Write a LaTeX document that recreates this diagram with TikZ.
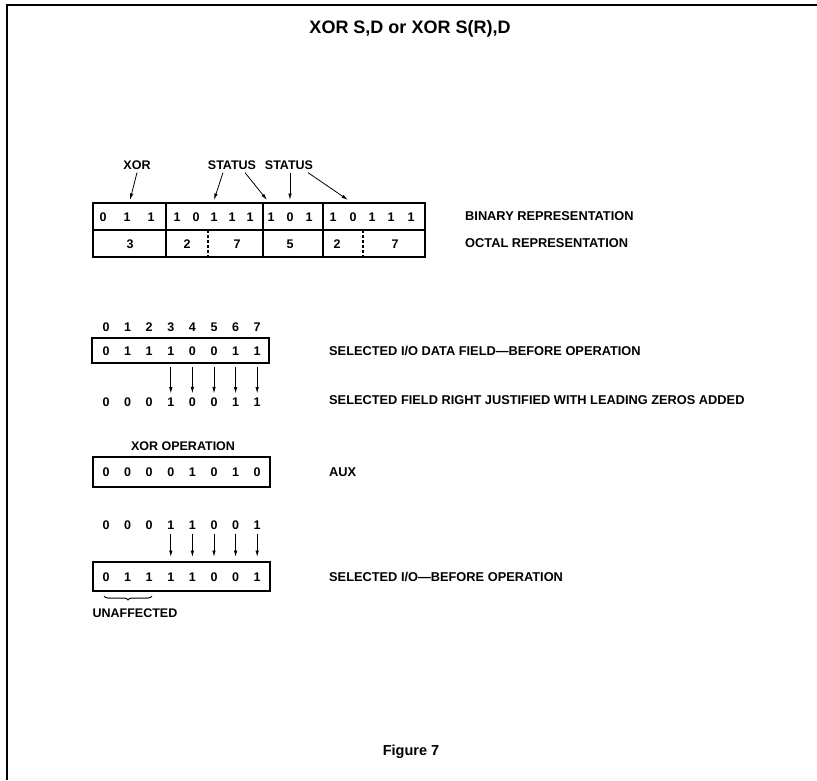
\documentclass[tikz,border=0pt]{standalone}
\usepackage{fontspec}
\setmainfont{Liberation Sans}
\usetikzlibrary{calc,positioning,arrows.meta,decorations.pathreplacing}

\begin{document}
\begin{tikzpicture}[x=1pt,y=-1pt]

\tikzset{bit/.style={font=\bfseries\fontsize{12.5}{14}\selectfont,inner sep=0pt},
sidetext/.style={font=\bfseries\fontsize{12.8}{14}\selectfont,inner sep=0pt,anchor=west},
reg/.style={draw,line width=2pt,minimum width=177pt,inner sep=0pt},
wordline/.style={line width=1.3pt},
downarrow/.style={-{Latex[length=6.5pt,width=3.5pt]},line width=0.8pt}}

% Frame
\useasboundingbox (0,0) rectangle (817,780);
\draw[line width=1.6pt] (817,5) -- (7,5) -- (7,780);

% Titles
\node[font=\bfseries\fontsize{18}{20}\selectfont] (title) at (410,29) {XOR S,D or XOR S(R),D};
\node[font=\bfseries\fontsize{14.5}{16}\selectfont] (figure) at (411,752) {Figure 7};

% Instruction word
\draw[wordline] (93,203) rectangle (425,257);
\draw[wordline] (93,230) -- (425,230);
\foreach \x in {166,263,323} \draw[wordline] (\x,203) -- (\x,257);
\foreach \x in {208,363} \draw[wordline,dash pattern=on 3pt off 2pt] (\x,230) -- (\x,257); % octal splits
\foreach \b/\x [count=\i] in {0/103,1/127,1/151,1/177,0/196,1/214,1/232,1/250,1/271,0/290,1/309,1/333,0/353,1/372,1/391,1/411}
  \node[bit] (bin\i) at (\x,217) {\b};
\foreach \d/\x [count=\i] in {3/130,2/187,7/237,5/290,2/337,7/395}
  \node[bit] (oct\i) at (\x,244) {\d};
\node[sidetext] (binlbl) at (465,216) {BINARY REPRESENTATION};
\node[sidetext] (octlbl) at (465,243) {OCTAL REPRESENTATION};

% Field markers
\node[bit] (xor) at (137,165) {XOR};
\node[bit] (stat1) at (232,165) {STATUS};
\node[bit] (stat2) at (289,165) {STATUS};
\coordinate (opfield) at (130,200);
\coordinate (srcmode) at (214,200);
\coordinate (srcreg) at (267,200);
\coordinate (dstmode) at (290,200);
\coordinate (dstreg) at (348,200);
\draw[downarrow] ([yshift=-3pt]xor.south) -- (opfield);
\draw[downarrow] ([xshift=-9pt,yshift=-3pt]stat1.south) -- (srcmode);
\draw[downarrow] ([xshift=13pt,yshift=-3pt]stat1.south) -- (srcreg);
\draw[downarrow] ([xshift=1pt,yshift=-3pt]stat2.south) -- (dstmode);
\draw[downarrow] ([xshift=19pt,yshift=-3pt]stat2.south) -- (dstreg);

% Selected I/O data field
\foreach \i in {0,...,7} \node[bit] (pos\i) at (106+21.6*\i,327) {\i};
\node[reg,minimum height=25pt] (selbox) at (180.5,350.5) {};
\foreach \b [count=\i from 0] in {0,1,1,1,0,0,1,1} \node[bit] (sel\i) at (106+21.6*\i,351) {\b};
\foreach \b [count=\i from 0] in {0,0,0,1,0,0,1,1} \node[bit] (just\i) at (106+21.6*\i,402) {\b};
\foreach \i in {3,...,7} \draw[downarrow,shorten >=4pt] ($(sel\i |- selbox.south)+(0,3)$) -- (just\i.north);
\node[sidetext] (sellbl) at (329,351) {SELECTED I/O DATA FIELD—BEFORE OPERATION};
\node[sidetext] (justlbl) at (329,400) {SELECTED FIELD RIGHT JUSTIFIED WITH LEADING ZEROS ADDED};

% AUX
\node[bit] (xorop) at (183,446) {XOR OPERATION};
\node[reg,minimum height=30pt] (auxbox) at (181.5,472) {};
\foreach \b [count=\i from 0] in {0,0,0,0,1,0,1,0} \node[bit] (aux\i) at (106+21.6*\i,472) {\b};
\node[sidetext] (auxlbl) at (329,472) {AUX};

% Result
\foreach \b [count=\i from 0] in {0,0,0,1,1,0,0,1} \node[bit] (res\i) at (106+21.6*\i,525) {\b};
\node[reg,minimum height=29pt] (outbox) at (181.5,576.5) {};
\foreach \b [count=\i from 0] in {0,1,1,1,1,0,0,1} \node[bit] (out\i) at (106+21.6*\i,577) {\b};
\foreach \i in {3,...,7} \draw[downarrow,shorten >=4pt] ($(res\i.south)+(0,4)$) -- (res\i |- outbox.north);
\node[sidetext] (outlbl) at (329,577) {SELECTED I/O—BEFORE OPERATION};
\draw[decorate,decoration={brace,mirror,amplitude=4pt},line width=1pt] (104,596) -- (152,596);
\node[bit] (unaff) at (135,613) {UNAFFECTED};

\end{tikzpicture}
\end{document}
